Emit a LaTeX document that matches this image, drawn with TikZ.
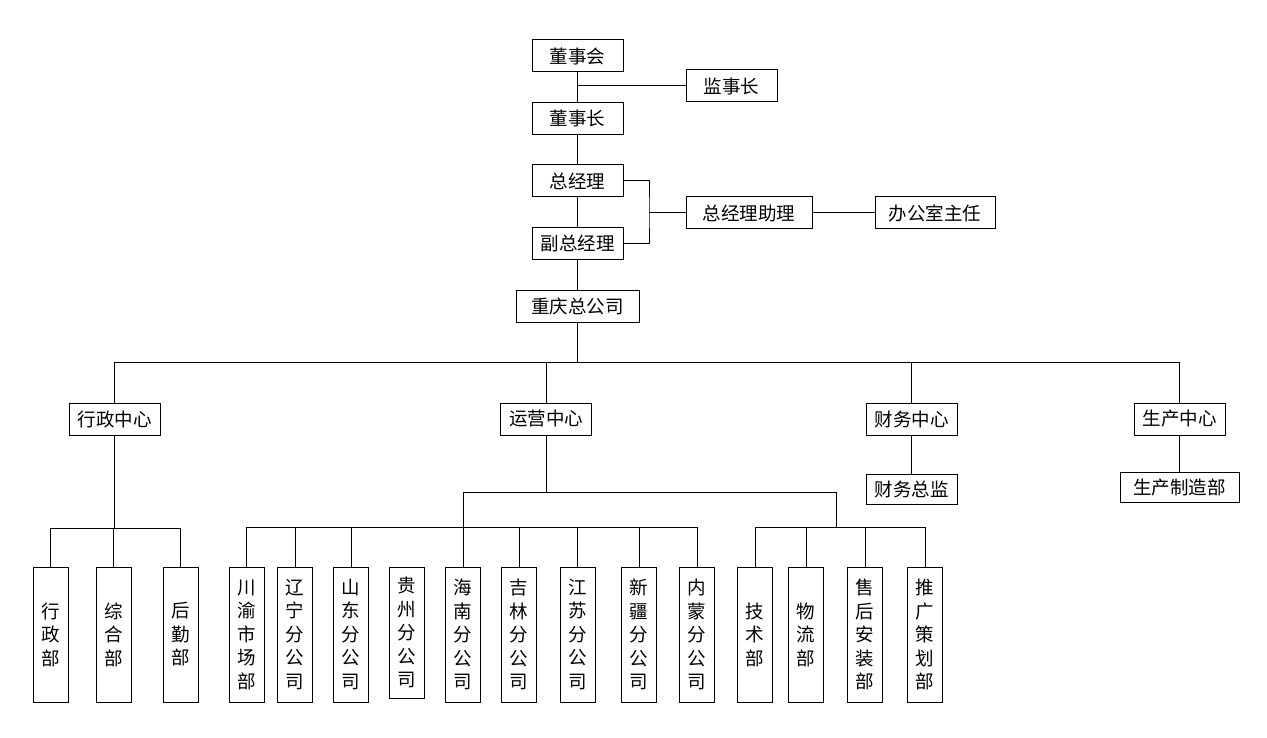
\documentclass[tikz,border=0pt]{standalone}
\usepackage{fontspec}
\newfontfamily\cjk{Noto Sans CJK SC}
\usepackage{xcolor}
\usepackage{tikz}
\usetikzlibrary{positioning,calc}

\begin{document}
\begin{tikzpicture}[
            x=1pt, y=-1pt,
            % --- node styles ---
            hbox/.style={
                draw, line width=1pt,
                minimum height=32pt, minimum width=91pt,
                align=center, inner sep=0pt,
                font=\cjk\fontsize{18.5}{23.5}\selectfont
            },
            vbox/.style={
                draw, line width=1pt,
                minimum height=135pt, minimum width=35pt,
                align=center, inner sep=0pt,
                font=\cjk\fontsize{18.5}{23.5}\selectfont
            },
            % --- edge style ---
            conn/.style={line width=1pt}
        ]

        \useasboundingbox (0,0) rectangle (1267,738);

        % ============================================================
        %  Layout: coordinates follow the pixel grid of the chart,
        %  y grows downwards.  Top chain on x=577.5, main bus y=362.
        % ============================================================

        % --- Top chain ---
        \node[hbox] (dsh) at (577.5, 56) {董事会};
        \node[hbox] (jsz) at (731.5, 86) {监事长};
        \node[hbox] (dsz) at (577.5, 118.5) {董事长};
        \node[hbox] (zjl) at (577.5, 181) {总经理};
        \node[hbox] (fzjl) at (577.5, 243.5) {副总经理};
        \node[hbox, minimum width=126pt] (zjlzl) at (749, 213) {总经理助理};
        \node[hbox, minimum width=120pt] (bgszr) at (935, 213) {办公室主任};
        \node[hbox, minimum width=123pt] (cqzgs) at (577.5, 306.5) {重庆总公司};

        % --- Centres ---
        \node[hbox] (xzzx) at (114.5, 419) {行政中心};
        \node[hbox] (yyzx) at (546, 419) {运营中心};
        \node[hbox] (cwzx) at (911.5, 419) {财务中心};
        \node[hbox] (sczx) at (1179.5, 419) {生产中心};
        \node[hbox, minimum height=30pt] (cwzj) at (911.5, 489) {财务总监};
        \node[hbox, minimum width=119pt, minimum height=30pt] (sczzb) at (1179.5, 487) {生产制造部};

        % --- Departments under 行政中心 ---
        \node[vbox] (xzb) at (50.5, 634.5) {行\\政\\部};
        \node[vbox] (zhb) at (113.5, 634.5) {综\\合\\部};
        \node[vbox] (hqb) at (180.5, 634.5) {后\\勤\\部};

        % --- Branches under 运营中心 ---
        \node[vbox] (cysc) at (246.5, 634.5) {川\\渝\\市\\场\\部};
        \node[vbox] (lnfgs) at (295, 634.5) {辽\\宁\\分\\公\\司};
        \node[vbox] (sdfgs) at (351, 634.5) {山\\东\\分\\公\\司};
        \node[vbox, minimum height=131pt] (gzfgs) at (407, 632.5) {贵\\州\\分\\公\\司};
        \node[vbox] (hnfgs) at (463, 634.5) {海\\南\\分\\公\\司};
        \node[vbox] (jlfgs) at (519, 634.5) {吉\\林\\分\\公\\司};
        \node[vbox] (jsfgs) at (577.5, 634.5) {江\\苏\\分\\公\\司};
        \node[vbox] (xjfgs) at (639, 634.5) {新\\疆\\分\\公\\司};
        \node[vbox] (nmfgs) at (697, 634.5) {内\\蒙\\分\\公\\司};

        % --- Departments under 运营中心 ---
        \node[vbox] (jsb) at (755, 634.5) {技\\术\\部};
        \node[vbox] (wlb) at (806, 634.5) {物\\流\\部};
        \node[vbox] (shaz) at (865, 634.5) {售\\后\\安\\装\\部};
        \node[vbox] (tgch) at (925, 634.5) {推\\广\\策\\划\\部};

        % --- Bus points ---
        \coordinate (jsbranch) at (577.5, 86);
        \coordinate (zlbranch) at (649, 213);
        \coordinate (busmain) at (577.5, 362);
        \coordinate (xzbus) at (114.5, 528);
        \coordinate (yybus) at (546, 492);
        \coordinate (fgsbus) at (463, 527);
        \coordinate (bmbus) at (836, 527);

        % ===== Top chain =====
        \draw[conn] (dsh) -- (dsz);
        \draw[conn] (jsbranch) -- (jsz);
        \draw[conn] (dsz) -- (zjl);
        \draw[conn] (zjl) -- (fzjl);
        \draw[conn] (zjl.east) -| (zlbranch) |- (fzjl.east);
        \draw[conn] (zlbranch) -- (zjlzl);
        \draw[conn] (zjlzl) -- (bgszr);
        \draw[conn] (fzjl) -- (cqzgs);

        % ===== Main bus =====
        \draw[conn] (cqzgs) -- (busmain);
        \draw[conn] (busmain) -| (xzzx);
        \draw[conn] (busmain) -| (yyzx);
        \draw[conn] (busmain) -| (cwzx);
        \draw[conn] (busmain) -| (sczx);
        \draw[conn] (cwzx) -- (cwzj);
        \draw[conn] (sczx) -- (sczzb);

        % ===== 行政中心 =====
        \draw[conn] (xzzx) -- (xzbus);
        \draw[conn] (xzbus) -| (xzb);
        \draw[conn] (xzbus) -| (zhb);
        \draw[conn] (xzbus) -| (hqb);

        % ===== 运营中心 =====
        \draw[conn] (yyzx) -- (yybus);
        \draw[conn] (yybus) -| (fgsbus);
        \draw[conn] (yybus) -| (bmbus);
        \draw[conn] (fgsbus) -| (cysc);
        \draw[conn] (fgsbus) -| (lnfgs);
        \draw[conn] (fgsbus) -| (sdfgs);
        \draw[conn] (fgsbus) -- (hnfgs);
        \draw[conn] (fgsbus) -| (jlfgs);
        \draw[conn] (fgsbus) -| (jsfgs);
        \draw[conn] (fgsbus) -| (xjfgs);
        \draw[conn] (fgsbus) -| (nmfgs);
        \draw[conn] (bmbus) -| (jsb);
        \draw[conn] (bmbus) -| (wlb);
        \draw[conn] (bmbus) -| (shaz);
        \draw[conn] (bmbus) -| (tgch);

        \end{tikzpicture}
\end{document}
